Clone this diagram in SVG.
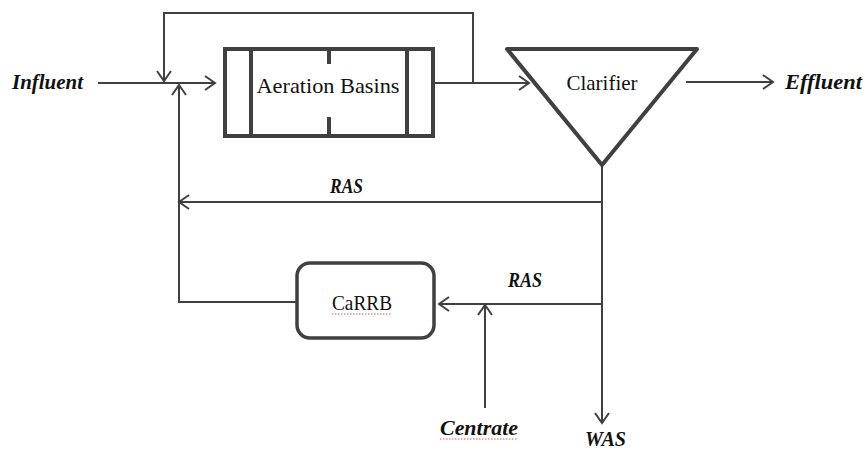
<svg xmlns="http://www.w3.org/2000/svg" width="865" height="451" viewBox="0 0 865 451">
  <defs>
    <style>
      .flow { fill: none; stroke: #404040; stroke-width: 2; }
      .unit { fill: none; stroke: #404040; stroke-width: 4; }
      .lbl { font-family: "Liberation Serif", "DejaVu Serif", serif; font-size: 21px; fill: #111; }
      .tag { font-family: "Liberation Serif", "DejaVu Serif", serif; font-size: 20px; font-weight: bold; font-style: italic; fill: #111; }
      .squiggle { fill: none; stroke: #e05050; stroke-width: 1; stroke-dasharray: 1.5 1.5; }
    </style>
    <marker id="arrow" markerWidth="14" markerHeight="16" refX="11" refY="8" orient="auto" markerUnits="userSpaceOnUse">
      <path d="M1,1 L11,8 L1,15" fill="none" stroke="#404040" stroke-width="2"/>
    </marker>
  </defs>

  <rect width="865" height="451" fill="#fff"/>

  <!-- process units -->
  <g id="aeration-basins">
    <rect class="unit" x="225" y="49" width="208" height="87"/>
    <line class="unit" x1="251" y1="49" x2="251" y2="136"/>
    <line class="unit" x1="407" y1="49" x2="407" y2="136"/>
    <line class="unit" x1="329" y1="49" x2="329" y2="64"/>
    <line class="unit" x1="329" y1="117" x2="329" y2="136"/>
    <text class="lbl" x="328" y="93" text-anchor="middle" textLength="143" lengthAdjust="spacingAndGlyphs">Aeration Basins</text>
  </g>

  <g id="clarifier">
    <polygon class="unit" points="507,49 697,49 602,165" stroke-linejoin="round"/>
    <text class="lbl" x="602" y="90" text-anchor="middle" textLength="71" lengthAdjust="spacingAndGlyphs">Clarifier</text>
  </g>

  <g id="carrb">
    <rect x="297" y="263" width="137" height="75" rx="13" ry="13" fill="none" stroke="#404040" stroke-width="3.5"/>
    <text class="lbl" x="362" y="310" text-anchor="middle" textLength="60" lengthAdjust="spacingAndGlyphs">CaRRB</text>
    <path class="squiggle" d="M332,314 H392"/>
  </g>

  <!-- stream labels -->
  <g id="influent"><text class="tag" x="12" y="89" textLength="71" lengthAdjust="spacingAndGlyphs">Influent</text></g>
  <g id="effluent"><text class="tag" x="785" y="89" textLength="77" lengthAdjust="spacingAndGlyphs">Effluent</text></g>
  <g id="ras-upper"><text class="tag" x="330" y="193" textLength="33" lengthAdjust="spacingAndGlyphs">RAS</text></g>
  <g id="ras-lower"><text class="tag" x="508" y="287" textLength="34" lengthAdjust="spacingAndGlyphs">RAS</text></g>
  <g id="centrate">
    <text class="tag" x="440" y="435" textLength="78" lengthAdjust="spacingAndGlyphs">Centrate</text>
    <path class="squiggle" d="M440,439 H518"/>
  </g>
  <g id="was"><text class="tag" x="585" y="446" textLength="41" lengthAdjust="spacingAndGlyphs">WAS</text></g>

  <!-- connectors -->
  <g id="connectors">
    <!-- influent to aeration basins -->
    <line class="flow" x1="98" y1="83" x2="215" y2="83" marker-end="url(#arrow)"/>
    <!-- internal recycle loop over the basins -->
    <polyline class="flow" points="473,83 473,13 164,13 164,81" marker-end="url(#arrow)"/>
    <!-- basins to clarifier -->
    <line class="flow" x1="433" y1="83" x2="529" y2="83" marker-end="url(#arrow)"/>
    <!-- clarifier to effluent -->
    <line class="flow" x1="686" y1="82" x2="773" y2="82" marker-end="url(#arrow)"/>
    <!-- underflow to WAS -->
    <line class="flow" x1="602" y1="165" x2="602" y2="423" marker-end="url(#arrow)"/>
    <!-- RAS return -->
    <line class="flow" x1="602" y1="202" x2="179" y2="202" marker-end="url(#arrow)"/>
    <!-- CaRRB return up to influent -->
    <polyline class="flow" points="296,302 179,302 179,85" marker-end="url(#arrow)"/>
    <!-- RAS to CaRRB -->
    <line class="flow" x1="602" y1="304" x2="439" y2="304" marker-end="url(#arrow)"/>
    <!-- centrate to CaRRB feed -->
    <line class="flow" x1="485" y1="408" x2="485" y2="305" marker-end="url(#arrow)"/>
  </g>
</svg>
